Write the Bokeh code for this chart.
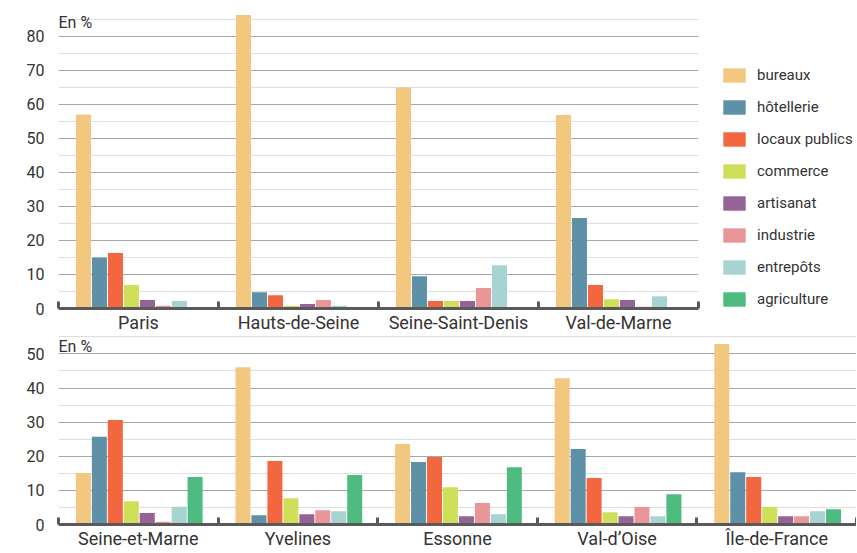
from bokeh.plotting import figure
from bokeh.models import ColumnDataSource, FixedTicker, Label, Legend, LegendItem, Range1d
from bokeh.layouts import column
from bokeh.embed import file_html
from bokeh.resources import INLINE

# ---------------- data ----------------
categories = ["bureaux", "hôtellerie", "locaux publics", "commerce",
              "artisanat", "industrie", "entrepôts", "agriculture"]
colors = ["#F2C881", "#5E90A8", "#F2673F", "#D0DF5A",
          "#956396", "#E99698", "#A7D3D2", "#4EBC80"]

top_depts = ["Paris", "Hauts-de-Seine", "Seine-Saint-Denis", "Val-de-Marne"]
bottom_depts = ["Seine-et-Marne", "Yvelines", "Essonne", "Val-d’Oise", "Île-de-France"]

paris = [57.0, 15.0, 16.3, 6.9, 2.5, 0.8, 2.2, 0.1]
hauts_de_seine = [86.3, 4.8, 3.9, 0.8, 1.3, 2.5, 0.8, 0.1]
seine_saint_denis = [65.0, 9.5, 2.2, 2.2, 2.2, 6.0, 12.7, 0.1]
val_de_marne = [56.9, 26.6, 6.9, 2.7, 2.5, 0.5, 3.6, 0.3]

seine_et_marne = [15.1, 25.7, 30.6, 6.8, 3.4, 0.8, 5.2, 13.9]
yvelines = [46.1, 2.7, 18.6, 7.7, 3.0, 4.2, 3.9, 14.5]
essonne = [23.6, 18.3, 19.8, 10.9, 2.4, 6.3, 3.0, 16.8]
val_d_oise = [42.9, 22.1, 13.6, 3.6, 2.4, 5.1, 2.4, 8.9]
ile_de_france = [52.9, 15.3, 13.9, 5.1, 2.4, 2.4, 3.9, 4.5]

top_values = [paris, hauts_de_seine, seine_saint_denis, val_de_marne]
bottom_values = [seine_et_marne, yvelines, essonne, val_d_oise, ile_de_france]

top_major = [0, 10, 20, 30, 40, 50, 60, 70, 80]
top_minor = [5, 15, 25, 35, 45, 55, 65, 75, 85]
bottom_major = [0, 10, 20, 30, 40, 50]
bottom_minor = [5, 15, 25, 35, 45, 55]

FONT = "Roboto"
TEXT = "#333333"
AXIS = "#5a5a5a"


def make_fig(depts, values, y_end, frame_w, frame_h, major, minor,
             right_border, top_border, label_y):
    n = len(depts)
    p = figure(frame_width=frame_w, frame_height=frame_h,
               x_range=Range1d(-0.5, n - 0.5), y_range=Range1d(0, y_end),
               output_backend="svg", toolbar_location=None,
               min_border_left=58, min_border_top=top_border, min_border_bottom=0,
               min_border_right=right_border)
    p.outline_line_color = None
    p.background_fill_color = "white"
    renderers = []
    for j, cat in enumerate(categories):
        xs = [i - 0.344 + 0.1 * j for i in range(n)]
        tops = [v[j] for v in values]
        src = ColumnDataSource(dict(x=xs, top=tops))
        r = p.vbar(x="x", top="top", bottom=0, width=0.094, source=src,
                   fill_color=colors[j], line_color=None)
        renderers.append(r)

    # x axis
    xt = FixedTicker(ticks=list(range(n)), minor_ticks=[i - 0.5 for i in range(n + 1)])
    p.xaxis.ticker = xt
    p.xaxis.major_label_overrides = {i: d for i, d in enumerate(depts)}
    p.xaxis.axis_line_color = AXIS
    p.xaxis.axis_line_width = 3
    p.xaxis.major_tick_line_color = None
    p.xaxis.major_tick_in = 0
    p.xaxis.major_tick_out = 0
    p.xaxis.minor_tick_line_color = AXIS
    p.xaxis.minor_tick_line_width = 3
    p.xaxis.minor_tick_in = 7
    p.xaxis.minor_tick_out = 0
    p.xaxis.major_label_standoff = 3
    p.xaxis.major_label_text_font = FONT
    p.xaxis.major_label_text_font_size = "18px"
    p.xaxis.major_label_text_color = TEXT
    p.xgrid.grid_line_color = None

    # y axis
    yt = FixedTicker(ticks=major, minor_ticks=minor)
    p.yaxis.ticker = yt
    p.ygrid.ticker = yt
    p.yaxis.axis_line_color = None
    p.yaxis.major_tick_line_color = None
    p.yaxis.major_tick_in = 0
    p.yaxis.major_tick_out = 0
    p.yaxis.minor_tick_line_color = None
    p.yaxis.major_label_standoff = 10
    p.yaxis.major_label_text_font = FONT
    p.yaxis.major_label_text_font_size = "16px"
    p.yaxis.major_label_text_color = TEXT
    p.ygrid.grid_line_color = "#a8a8a8"
    p.ygrid.grid_line_width = 1
    p.ygrid.minor_grid_line_color = "#dedede"
    p.ygrid.minor_grid_line_width = 1

    p.add_layout(Label(x=-0.5, y=label_y, text="En %", text_font=FONT,
                       text_font_size="16px", text_color=TEXT,
                       text_baseline="alphabetic"))
    return p, renderers


top, top_r = make_fig(top_depts, top_values, 88.2, 640, 300, top_major, top_minor,
                      159, 8, 84.1)
bottom, _ = make_fig(bottom_depts, bottom_values, 55.4, 798, 189,
                     bottom_major, bottom_minor, 0, 0, 52.2)

legend = Legend(items=[LegendItem(label=c, renderers=[r]) for c, r in zip(categories, top_r)],
                location=(22, 0), orientation="vertical",
                glyph_width=28, glyph_height=18, label_height=18, label_standoff=9,
                spacing=14, padding=0, margin=0, border_line_color=None,
                background_fill_alpha=0,
                label_text_font=FONT, label_text_font_size="15px", label_text_color=TEXT)
top.add_layout(legend, "right")

layout = column(top, bottom)
open("out.html", "w").write(file_html(layout, INLINE))
